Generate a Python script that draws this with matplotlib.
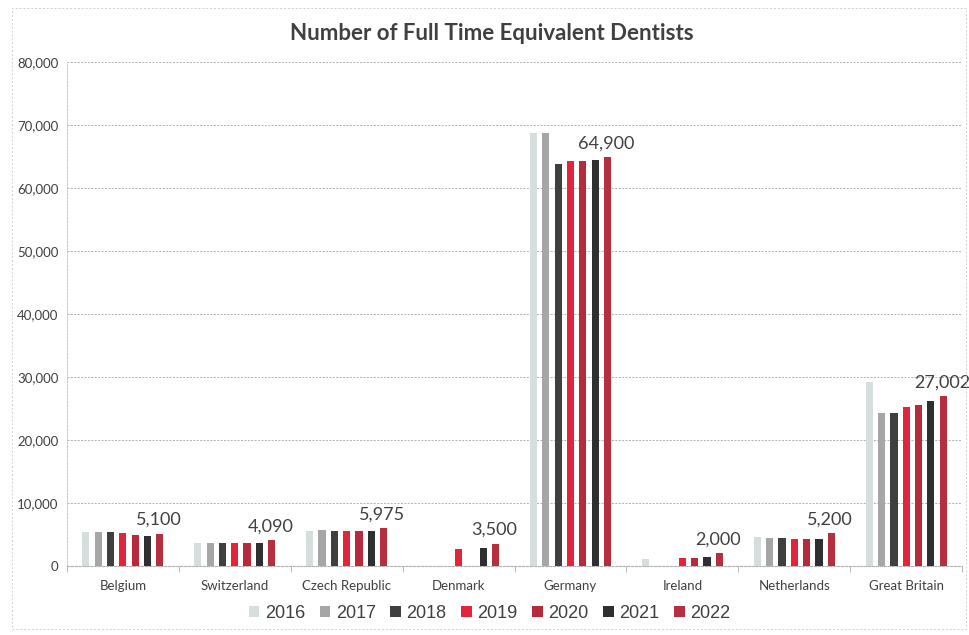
import numpy as np
import matplotlib
matplotlib.use("Agg")
import matplotlib.pyplot as plt
from matplotlib.patches import Rectangle

# Full time equivalent dentists per country and year
countries = ["Belgium", "Switzerland", "Czech Republic", "Denmark",
             "Germany", "Ireland", "Netherlands", "Great Britain"]
years = ["2016", "2017", "2018", "2019", "2020", "2021", "2022"]

v2016 = [5400, 3600, 5450, np.nan, 68700, 1000, 4650, 29150]
v2017 = [5400, 3550, 5700, np.nan, 68800, np.nan, 4400, 24200]
v2018 = [5400, 3600, 5600, np.nan, 63900, np.nan, 4400, 24200]
v2019 = [5200, 3600, 5550, 2650, 64300, 1250, 4300, 25200]
v2020 = [4900, 3550, 5550, np.nan, 64300, 1250, 4250, 25550]
v2021 = [4800, 3600, 5500, 2900, 64400, 1350, 4250, 26200]
v2022 = [5100, 4090, 5975, 3500, 64900, 2000, 5200, 27002]

series = [v2016, v2017, v2018, v2019, v2020, v2021, v2022]
colors = ["#d6dddd", "#a7a6a6", "#3f3f3f", "#e1253d", "#b52a3c", "#2e302f", "#b4303f"]

plt.rcParams["font.family"] = ["Lato", "DejaVu Sans"]

fig = plt.figure(figsize=(9.69, 6.35), dpi=100)
ax = fig.add_axes([0.069, 0.109, 0.924, 0.793])

x = np.arange(len(countries))
slot = 0.11
width = 0.064
for i, (vals, c) in enumerate(zip(series, colors)):
    offs = (i - 3) * slot
    ax.bar(x + offs, vals, width=width, color=c, label=years[i], zorder=3)

# value labels above the 2022 bars
for xi, v in zip(x, v2022):
    ax.text(xi + 3 * slot - 0.01, v + 900, f"{v:,}", ha="center", va="bottom",
            fontsize=13, color="#404040", zorder=4)

ax.set_ylim(0, 80000)
ax.set_xlim(-0.5, len(countries) - 0.5)
ax.set_yticks(np.arange(0, 80001, 10000))
ax.set_yticklabels([f"{t:,}" for t in range(0, 80001, 10000)], fontsize=9.5, color="#404040")
ax.grid(axis="y", color="#b0b0b0", linestyle=(0, (2, 1.5)), linewidth=0.7, zorder=0)

ax.set_xticks(x)
ax.set_xticklabels(countries, fontsize=9.5, color="#404040")
ax.tick_params(axis="x", length=0, pad=10)
ax.tick_params(axis="y", length=0, pad=6)
ax.set_xticks(np.arange(-0.5, len(countries), 1), minor=True)
ax.tick_params(axis="x", which="minor", length=4, color="#b0b0b0")

for s in ["top", "right"]:
    ax.spines[s].set_visible(False)
ax.spines["bottom"].set_color("#b0b0b0")
ax.spines["bottom"].set_linestyle((0, (2, 1.5)))
ax.spines["left"].set_color("#c8c8c8")
ax.spines["left"].set_linestyle((0, (2, 1.5)))
ax.spines["left"].set_linewidth(0.7)

fig.text(0.508, 0.948, "Number of Full Time Equivalent Dentists", ha="center", va="center",
         fontsize=16, fontweight="bold", color="#404040")

leg = fig.legend(loc="center", bbox_to_anchor=(0.505, 0.034), ncol=7, frameon=False,
                 prop={"family": "Liberation Sans", "size": 13},
                 handlelength=0.6, handleheight=0.6, handletextpad=0.3, columnspacing=0.8)
for t in leg.get_texts():
    t.set_color("#404040")

# light dotted frame around the chart area
fig.patches.append(Rectangle((0.012, 0.01), 0.985, 0.978, transform=fig.transFigure,
                             fill=False, edgecolor="#d0d0d0", linewidth=0.7,
                             linestyle=(0, (2, 2))))

fig.savefig("out.png", dpi=100)
